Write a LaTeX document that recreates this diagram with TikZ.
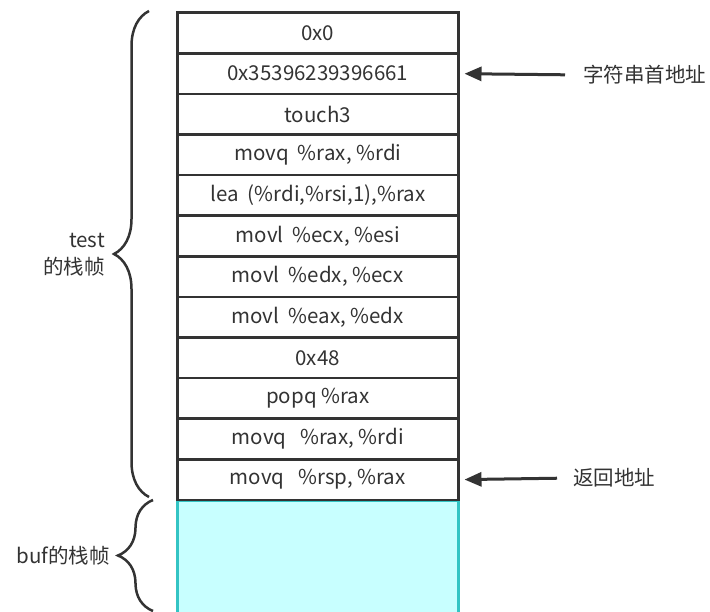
\documentclass[tikz,border=0pt]{standalone}
\usepackage{fontspec}
\setmainfont{Noto Sans CJK SC}
\usetikzlibrary{arrows.meta,decorations.pathreplacing}
\definecolor{ink}{HTML}{333333}
\definecolor{cyanfill}{HTML}{C8FFFF}
\definecolor{tealedge}{HTML}{33C4C4}
\begin{document}
\begin{tikzpicture}[x=1pt,y=-1pt,
  font=\fontsize{20.5}{27}\selectfont,
  cell/.style={draw=ink, line width=2.5pt, minimum width=281pt, minimum height=40.6pt,
    inner sep=0pt, anchor=north west, text=ink},
  buffer/.style={draw=tealedge, fill=cyanfill, line width=2.5pt, minimum width=281pt,
    minimum height=125pt, inner sep=0pt, anchor=north west},
  lbl/.style={text=ink, inner sep=0pt},
  pointer/.style={draw=ink, line width=3pt, -{Triangle[length=17pt,width=14pt]}},
  bracket/.style={draw=ink, line width=2.5pt, decorate, decoration={brace, amplitude=35pt}}]
\useasboundingbox (0,0) rectangle (710,612);
\clip (0,0) rectangle (710,612);
\fill[white] (0,0) rectangle (710,612);
\node[buffer] (buf) at (176,499) {};
\node[cell] (r0) at (176,11.5) {0x0};
\node[cell] (r1) at (176,52.1) {0x35396239396661};
\node[cell] (r2) at (176,92.7) {touch3};
\node[cell] (r3) at (176,133.3) {movq\ \ \%rax, \%rdi};
\node[cell] (r4) at (176,173.9) {lea\ \ (\%rdi,\%rsi,1),\%rax};
\node[cell] (r5) at (176,214.5) {movl\ \ \%ecx, \%esi};
\node[cell] (r6) at (176,255.1) {movl\ \ \%edx, \%ecx};
\node[cell] (r7) at (176,295.7) {movl\ \ \%eax, \%edx};
\node[cell] (r8) at (176,336.3) {0x48};
\node[cell] (r9) at (176,376.9) {popq \%rax};
\node[cell] (r10) at (176,417.5) {movq\ \ \ \%rax, \%rdi};
\node[cell] (r11) at (176,458.1) {movq\ \ \ \%rsp, \%rax};
\node[lbl, anchor=west] (l1) at (583,75) {字符串首地址};
\node[lbl, anchor=west] (l2) at (573,478) {返回地址};
\draw[pointer, shorten <=18pt, shorten >=5pt] (l1.west) -- (r1.east);
\draw[pointer, shorten <=16pt, shorten >=5pt] (l2.west) -- (r11.east);
\coordinate (tb) at (149,497);
\coordinate (tt) at (149,11);
\coordinate (bb) at (153,611);
\coordinate (bt) at (153,500);
\draw[bracket] (tb) -- (tt);
\draw[bracket] (bb) -- (bt);
\node[lbl, anchor=east, align=right] (tl) at (105,255) {test\\的栈帧};
\node[lbl, anchor=east] (bl) at (110,556) {buf的栈帧};
\end{tikzpicture}
\end{document}
